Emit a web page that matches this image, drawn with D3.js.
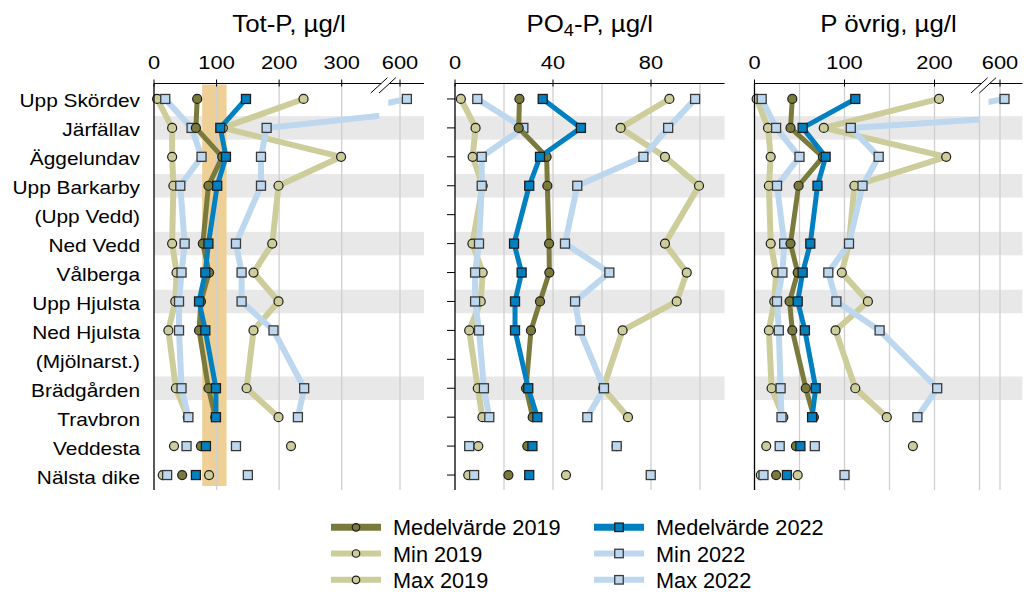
<!DOCTYPE html>
<html>
<head>
<meta charset="utf-8">
<script src="https://cdn.jsdelivr.net/npm/d3@7"></script>
<style>
body { margin: 0; background: #fff; }
text { font-family: "Liberation Sans", Arial, sans-serif; fill: #000; }
</style>
</head>
<body>
<div id="container"><svg></svg></div>
<script>
const SVG_WIDTH = 1024;
const SVG_HEIGHT = 592;

const stations = ['Upp Skördev', 'Järfällav', 'Äggelundav', 'Upp Barkarby', '(Upp Vedd)', 'Ned Vedd',
    'Vålberga', 'Upp Hjulsta', 'Ned Hjulsta', '(Mjölnarst.)', 'Brädgården', 'Travbron', 'Veddesta', 'Nälsta dike'];
const shadedStations = ['Järfällav', 'Upp Barkarby', 'Ned Vedd', 'Upp Hjulsta', 'Brädgården'];
// tributaries, plotted as markers only
const looseStations = ['Veddesta', 'Nälsta dike'];

const seriesKeys = ['mean2019', 'min2019', 'max2019', 'mean2022', 'min2022', 'max2022'];
const seriesLabels = ['Medelvärde 2019', 'Min 2019', 'Max 2019', 'Medelvärde 2022', 'Min 2022', 'Max 2022'];

// Tot-P, µg/l
const totp_mean2019 = [69, 67, 109, 87, null, 78, 88, 75, 72, null, 87, 98, 75, 45];
const totp_min2019  = [5, 29, 29, 31, null, 29, 36, 34, 23, null, 35, 54, 32, 14];
const totp_max2019  = [239, 110, 299, 199, null, 189, 159, 199, 159, null, 148, 199, 219, 88];
const totp_mean2022 = [147, 106, 115, 101, null, 87, 82, 72, 82, null, 99, 99, 83, 67];
const totp_min2022  = [18, 60, 76, 42, null, 49, 44, 40, 40, null, 44, 55, 52, 21];
const totp_max2022  = [611, 180, 171, 171, null, 131, 140, 140, 191, null, 240, 230, 131, 150];

// PO4-P, µg/l
const po4_mean2019 = [26.3, 26, 37.4, 37.7, null, 38.4, 38.5, 34.7, 31, null, 29, 31.7, 29.5, 21.8];
const po4_min2019  = [2.4, 8.4, 7.2, 11.3, null, 7.1, 11.3, 10.5, 5.8, null, 9.3, 11.2, 9.5, 5.4];
const po4_max2019  = [87.5, 67.6, 85.7, 99.6, null, 85.7, 94.6, 90.5, 68.4, null, 60.5, 70.6, 66, 45.3];
const po4_mean2022 = [35.8, 51.4, 34.7, 30.3, null, 24.1, 27.2, 24.5, 24.5, null, 29.9, 33.6, 31.6, 30.3];
const po4_min2022  = [9.1, 27.9, 10.9, 10.9, null, 9.8, 8.2, 8.2, 9.8, null, 11.8, 14, 5.8, 7.8];
const po4_max2022  = [98, 87, 76.9, 49.9, null, 44.9, 63, 49, 51, null, 60.8, 54, 66, 79.9];

// P övrig, µg/l
const povr_mean2019 = [42, 40, 76, 49, null, 40, 48, 39, 42, null, 57, 66, 46, 24];
const povr_min2019  = [2.4, 15, 18, 16, null, 18, 24, 22, 16, null, 19, 32, 13, 7];
const povr_max2019  = [205, 77, 213, 111, null, 105, 97, 126, 90, null, 112, 147, 176, 48];
const povr_mean2022 = [112, 53.5, 79, 70, null, 62, 53.5, 48, 56, null, 68, 64, 51, 36];
const povr_min2022  = [8, 24, 50, 25, null, 33, 31, 25, 27, null, 29, 30, 28, 10];
const povr_max2022  = [605, 107, 138, 120, null, 105, 82, 91, 139, null, 203, 181, 67, 100];

// axis tick labels and gridlines
const totpTicks = [0, 100, 200, 300, 600];
const totpGrid = [100, 200, 300, 600];
const po4Ticks = [0, 40, 80];
const po4Grid = [20, 40, 60, 80, 100];
const povrTicks = [0, 100, 200, 600];
const povrGrid = [50, 100, 150, 200, 250, 600];
const totpTarget = [77, 116];

const AXIS_Y = 83.5;
const AXIS_BOTTOM = 490;
const BAND_COLOR = '#e8e8e8';
const GRID_COLOR = '#cfcfcf';
const TARGET_COLOR = '#eecf95';

const STYLE = {
    mean2019: {color: '#7a7a3c', width: 5, shape: 'circle', stroke: '#1e1e1e'},
    min2019:  {color: '#cdcd9b', width: 6, shape: 'circle', stroke: '#1e1e1e'},
    max2019:  {color: '#cdcd9b', width: 6, shape: 'circle', stroke: '#1e1e1e'},
    mean2022: {color: '#0080c0', width: 5, shape: 'square', stroke: '#1e1e1e'},
    min2022:  {color: '#bdd7ee', width: 6, shape: 'square', stroke: '#3a3a3a'},
    max2022:  {color: '#bdd7ee', width: 6, shape: 'square', stroke: '#3a3a3a'}
};
const DRAW_ORDER = ['min2019', 'max2019', 'min2022', 'max2022', 'mean2019', 'mean2022'];

const panels = [
    {id: 'totp', title: ['Tot-P, µg/l'], left: 154, right: 424, unit: 0.6257, brk: 360, x600: 400,
        ticks: totpTicks, grid: totpGrid, target: totpTarget, yTicks: false,
        data: {mean2019: totp_mean2019, min2019: totp_min2019, max2019: totp_max2019,
               mean2022: totp_mean2022, min2022: totp_min2022, max2022: totp_max2022}},
    {id: 'po4', title: ['PO', '4', '-P, µg/l'], left: 455, right: 724.5, unit: 2.45, brk: null,
        ticks: po4Ticks, grid: po4Grid, target: null, yTicks: true,
        data: {mean2019: po4_mean2019, min2019: po4_min2019, max2019: po4_max2019,
               mean2022: po4_mean2022, min2022: po4_min2022, max2022: po4_max2022}},
    {id: 'povr', title: ['P övrig, µg/l'], left: 754.5, right: 1022.5, unit: 0.9, brk: 250, x600: 1000,
        ticks: povrTicks, grid: povrGrid, target: null, yTicks: false,
        data: {mean2019: povr_mean2019, min2019: povr_min2019, max2019: povr_max2019,
               mean2022: povr_mean2022, min2022: povr_min2022, max2022: povr_max2022}}
];

const svg = d3.select('#container').select('svg')
    .attr('width', SVG_WIDTH)
    .attr('height', SVG_HEIGHT);
const defs = svg.append('defs');

const y = d3.scalePoint()
    .domain(stations)
    .range([84.5, 489.5])
    .padding(0.5);

// the source text is drawn a bit wider than the font's own shape
const stretch = (x, yy, sx) => `translate(${x},${yy}) scale(${sx},1)`;

function draw_labels() {
    svg.append('g').selectAll('text')
        .data(stations)
        .enter()
        .append('text')
        .attr('transform', d => stretch(140, y(d) + 8.5, 1.14))
        .attr('text-anchor', 'end')
        .attr('font-size', 18.3)
        .text(d => d);
}

function draw_marker(g, shape, cx, cy, st, size) {
    if (shape === 'circle') {
        g.append('circle')
            .attr('cx', cx).attr('cy', cy).attr('r', size / 2)
            .attr('fill', st.color).attr('stroke', st.stroke).attr('stroke-width', 1.2);
    } else {
        g.append('rect')
            .attr('x', cx - size / 2).attr('y', cy - size / 2)
            .attr('width', size).attr('height', size)
            .attr('fill', st.color).attr('stroke', st.stroke).attr('stroke-width', 1.3);
    }
}

function draw_panel(p) {
    const g = svg.append('g').attr('id', p.id);

    // linear scale that keeps going past the break, and the broken one that is drawn
    const xLin = d3.scaleLinear().domain([0, 100]).range([p.left, p.left + 100 * p.unit]);
    let x = xLin;
    let gapLo = null, gapHi = null;
    if (p.brk) {
        gapLo = xLin(p.brk);
        gapHi = gapLo + 9;
        x = d3.scaleLinear()
            .domain([0, p.brk, 600, 600 + (p.right - p.x600) / p.unit])
            .range([p.left, gapLo, p.x600, p.right]);
        defs.append('clipPath').attr('id', 'clipL-' + p.id)
            .append('rect').attr('x', 0).attr('y', 0).attr('width', gapLo).attr('height', SVG_HEIGHT);
        defs.append('clipPath').attr('id', 'clipR-' + p.id)
            .append('rect').attr('x', gapHi).attr('y', 0).attr('width', SVG_WIDTH - gapHi).attr('height', SVG_HEIGHT);
    }

    g.selectAll('rect.band')
        .data(shadedStations)
        .enter()
        .append('rect')
        .attr('class', 'band')
        .attr('x', p.left)
        .attr('width', p.right - p.left)
        .attr('y', d => y(d) - 11.75)
        .attr('height', 23.5)
        .attr('fill', BAND_COLOR);

    if (p.target) {
        g.append('rect')
            .attr('x', x(p.target[0]))
            .attr('width', x(p.target[1]) - x(p.target[0]))
            .attr('y', AXIS_Y + 1)
            .attr('height', y(stations[stations.length - 1]) + 11 - AXIS_Y - 1)
            .attr('fill', TARGET_COLOR);
    }

    g.selectAll('line.grid')
        .data(p.grid)
        .enter()
        .append('line')
        .attr('class', 'grid')
        .attr('x1', d => x(d)).attr('x2', d => x(d))
        .attr('y1', AXIS_Y).attr('y2', AXIS_BOTTOM)
        .attr('stroke', GRID_COLOR)
        .attr('stroke-width', 1.3);

    // series
    DRAW_ORDER.forEach(key => {
        const st = STYLE[key];
        const vals = p.data[key];
        const pts = stations
            .map((s, i) => ({s: s, v: vals[i]}))
            .filter(d => d.v !== null && !looseStations.includes(d.s));
        const line = sc => d3.line().x(d => sc(d.v)).y(d => y(d.s));
        if (p.brk) {
            g.append('path').attr('d', line(xLin)(pts)).attr('clip-path', `url(#clipL-${p.id})`)
                .attr('fill', 'none').attr('stroke', st.color).attr('stroke-width', st.width)
                .attr('stroke-linejoin', 'round');
            g.append('path').attr('d', line(x)(pts)).attr('clip-path', `url(#clipR-${p.id})`)
                .attr('fill', 'none').attr('stroke', st.color).attr('stroke-width', st.width)
                .attr('stroke-linejoin', 'round');
        } else {
            g.append('path').attr('d', line(x)(pts))
                .attr('fill', 'none').attr('stroke', st.color).attr('stroke-width', st.width)
                .attr('stroke-linejoin', 'round');
        }
        stations.forEach((s, i) => {
            if (vals[i] === null) return;
            draw_marker(g, st.shape, x(vals[i]), y(s), st, 9);
        });
    });

    // axes
    g.append('line')
        .attr('x1', p.left).attr('x2', p.right)
        .attr('y1', AXIS_Y).attr('y2', AXIS_Y)
        .attr('stroke', '#000').attr('stroke-width', 1.2);
    g.append('line')
        .attr('x1', p.left).attr('x2', p.left)
        .attr('y1', AXIS_Y).attr('y2', AXIS_BOTTOM)
        .attr('stroke', '#000').attr('stroke-width', 1.3);

    g.selectAll('line.tick')
        .data(p.ticks)
        .enter()
        .append('line')
        .attr('x1', d => x(d)).attr('x2', d => x(d))
        .attr('y1', AXIS_Y - 4).attr('y2', AXIS_Y + 3)
        .attr('stroke', '#000').attr('stroke-width', 1);

    g.selectAll('text.ticktext')
        .data(p.ticks)
        .enter()
        .append('text')
        .attr('class', 'ticktext')
        .attr('transform', d => stretch(x(d), 68.5, 1.15))
        .attr('text-anchor', 'middle')
        .attr('font-size', 19)
        .text(d => d);

    if (p.yTicks) {
        g.selectAll('line.ytick')
            .data(stations)
            .enter()
            .append('line')
            .attr('x1', p.left - 8).attr('x2', p.left)
            .attr('y1', d => y(d)).attr('y2', d => y(d))
            .attr('stroke', '#000').attr('stroke-width', 1);
    }

    if (p.brk) {
        const c = gapLo + 4;
        g.append('polygon')
            .attr('points', `${c - 12.5},93 ${c + 4.2},77.7 ${c + 12.5},77.7 ${c - 4.2},93`)
            .attr('fill', '#fff');
        [-8.3, 0].forEach(off => {
            g.append('line')
                .attr('x1', c - 4.2 + off).attr('y1', 93)
                .attr('x2', c + 12.5 + off).attr('y2', 77.7)
                .attr('stroke', '#000').attr('stroke-width', 1);
        });
    }

    let title = g.append('text')
        .attr('transform', stretch((p.left + p.right) / 2, 32, 1.1))
        .attr('text-anchor', 'middle')
        .attr('font-size', 23.5);
    if (p.title.length === 1) {
        title.text(p.title[0]);
    } else {
        title.append('tspan').text(p.title[0]);
        title.append('tspan').attr('font-size', 16.5).attr('dy', 4).text(p.title[1]);
        title.append('tspan').attr('dy', -4).text(p.title[2]);
    }
}

function draw_legend() {
    const legend = svg.append('g').attr('id', 'legend');
    const colX = [331, 594];
    const rowY = [527.3, 553.5, 579.8];
    seriesKeys.forEach((key, i) => {
        const st = STYLE[key];
        const cx = colX[Math.floor(i / 3)];
        const cy = rowY[i % 3];
        legend.append('line')
            .attr('x1', cx).attr('x2', cx + 50)
            .attr('y1', cy).attr('y2', cy)
            .attr('stroke', st.color)
            .attr('stroke-width', key.startsWith('mean') ? 7 : 6);
        draw_marker(legend, st.shape, cx + 25, cy, st, st.shape === 'circle' ? 7.5 : 8.5);
        legend.append('text')
            .attr('x', cx + 62)
            .attr('y', cy + 8)
            .attr('font-size', 21.7)
            .text(seriesLabels[i]);
    });
}

draw_labels();
panels.forEach(draw_panel);
draw_legend();
</script>
</body>
</html>
